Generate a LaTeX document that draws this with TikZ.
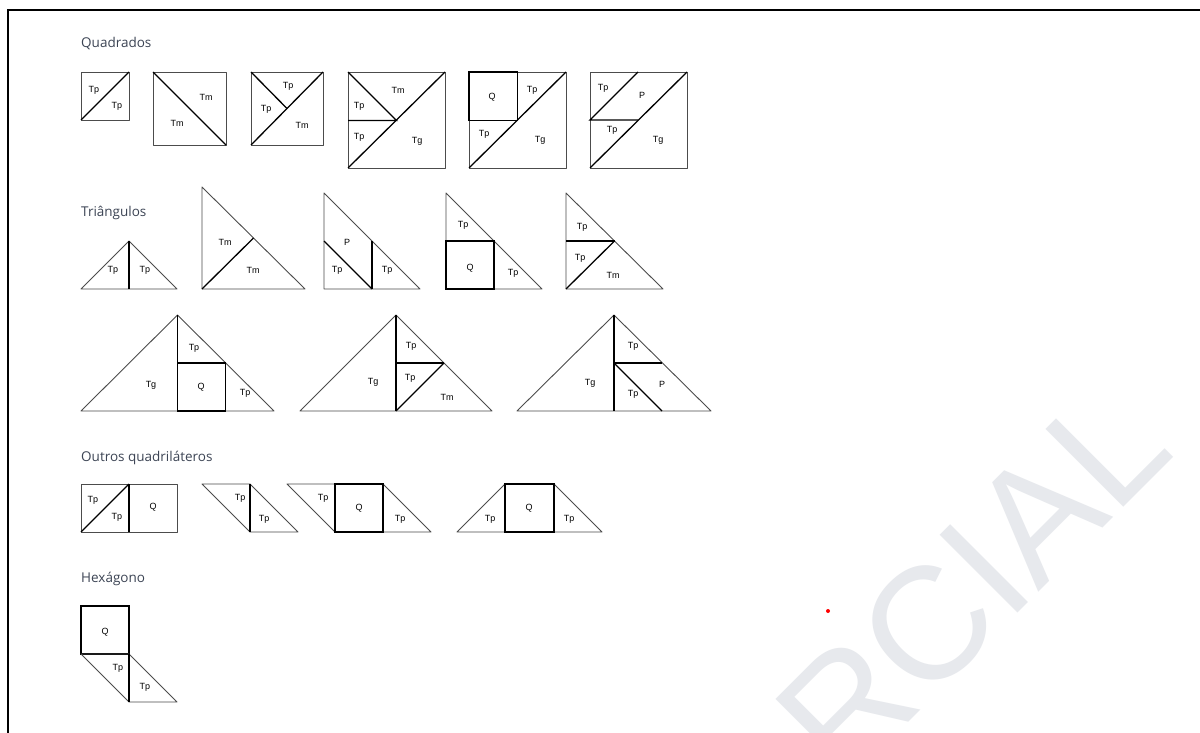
\documentclass[tikz,border=0pt]{standalone}
\usepackage{fontspec}
\setmainfont{Liberation Sans}
\newfontfamily\headfont{Open Sans}
\usepackage{xcolor}
\usepackage{tikz}
\usetikzlibrary{arrows.meta}
\definecolor{headcol}{RGB}{60,68,84}
\definecolor{markcol}{RGB}{231,233,237}

\begin{document}
\begin{tikzpicture}[x=1pt,y=-1pt,
  edge/.style={draw=black!70,line width=0.9pt,line join=round},
  cut/.style={draw=black,line width=1.3pt},
  lbl/.style={font=\fontsize{9}{10}\selectfont,inner sep=0pt},
  title/.style={font=\headfont\fontsize{13.5}{15}\selectfont,text=headcol,anchor=base west,inner sep=0pt}]
  \useasboundingbox (0,0) rectangle (1200,733);
  \fill[white] (0,0) rectangle (1200,733);
  \begin{scope}
    \clip (0,0) rectangle (1200,733);
    \node[font=\fontsize{160}{160}\selectfont,text=markcol,rotate=45,anchor=base west,inner sep=0pt] (mark) at (844,787) {RCIAL};
  \end{scope}
  \fill[red] (828,611) circle (2);
  \draw[line width=2.5pt] (8,733) -- (8,10) -- (1200,10);

  \node[title] (hq) at (81,48) {Quadrados};
  \draw[edge] (81,72) rectangle (129,120);
  \draw[cut] (81,120) -- (129,72);
  \node[lbl] (q1a) at (94,90) {Tp};
  \node[lbl] (q1b) at (117,106) {Tp};
  \draw[edge] (153,72) rectangle (226,145);
  \draw[cut] (153,72) -- (226,145);
  \node[lbl] (q2a) at (206,97) {Tm};
  \node[lbl] (q2b) at (177,123) {Tm};
  \draw[edge] (251,72) rectangle (323,145);
  \draw[cut] (251,145) -- (323,72);
  \draw[cut] (251,72) -- (287,108.5);
  \node[lbl] (q3a) at (288,86) {Tp};
  \node[lbl] (q3b) at (266,109) {Tp};
  \node[lbl] (q3c) at (302,125) {Tm};
  \draw[edge] (348,72) rectangle (445,168);
  \draw[cut] (348,168) -- (445,72);
  \draw[cut] (348,72) -- (396.5,120.5) -- (348,120.5);
  \node[lbl] (q4a) at (398,90) {Tm};
  \node[lbl] (q4b) at (359,106) {Tp};
  \node[lbl] (q4c) at (359,137) {Tp};
  \node[lbl] (q4d) at (417,141) {Tg};
  \draw[edge] (469,72) rectangle (566,168);
  \draw[cut] (469,72) rectangle (517.5,120.5);
  \draw[cut] (469,168) -- (566,72);
  \node[lbl] (q5a) at (492,97) {Q};
  \node[lbl] (q5b) at (532,90) {Tp};
  \node[lbl] (q5c) at (484,134) {Tp};
  \node[lbl] (q5d) at (540,140) {Tg};
  \draw[edge] (590,72) rectangle (687,168);
  \draw[cut] (590,168) -- (687,72);
  \draw[cut] (638,72) -- (590,120) -- (638,120);
  \node[lbl] (q6a) at (603,88) {Tp};
  \node[lbl] (q6b) at (642,95) {P};
  \node[lbl] (q6c) at (612,130) {Tp};
  \node[lbl] (q6d) at (658,140) {Tg};

  \node[title] (ht) at (81,216) {Triângulos};
  \draw[edge] (81,289) -- (177,289) -- (129,241) -- cycle;
  \draw[cut] (129,241) -- (129,289);
  \node[lbl] (t1a) at (113,270) {Tp};
  \node[lbl] (t1b) at (145,270) {Tp};
  \draw[edge] (202,187) -- (202,289) -- (305,289) -- cycle;
  \draw[cut] (202,289) -- (253.5,238);
  \node[lbl] (t2a) at (225,242) {Tm};
  \node[lbl] (t2b) at (253,270) {Tm};
  \draw[edge] (324,193) -- (324,289) -- (420,289) -- cycle;
  \draw[cut] (324,241) -- (372,289);
  \draw[cut] (372,241) -- (372,289);
  \node[lbl] (t3a) at (347,242) {P};
  \node[lbl] (t3b) at (337,270) {Tp};
  \node[lbl] (t3c) at (387,270) {Tp};
  \draw[edge] (446,193) -- (446,289) -- (542,289) -- cycle;
  \draw[cut] (446,241) rectangle (494,289);
  \node[lbl] (t4a) at (463,225) {Tp};
  \node[lbl] (t4b) at (470,268) {Q};
  \node[lbl] (t4c) at (513,273) {Tp};
  \draw[edge] (566,193) -- (566,289) -- (663,289) -- cycle;
  \draw[cut] (566,241) -- (614.5,241);
  \draw[cut] (566,289) -- (614.5,241);
  \node[lbl] (t5a) at (582,227) {Tp};
  \node[lbl] (t5b) at (580,258) {Tp};
  \node[lbl] (t5c) at (613,275) {Tm};

  \draw[edge] (81,411) -- (274,411) -- (177.5,315) -- cycle;
  \draw[cut] (177.5,315) -- (177.5,411);
  \draw[cut] (177.5,363) rectangle (225.5,411);
  \node[lbl] (b1a) at (151,385) {Tg};
  \node[lbl] (b1b) at (201,387) {Q};
  \node[lbl] (b1c) at (194,348) {Tp};
  \node[lbl] (b1d) at (245,393) {Tp};
  \draw[edge] (300,411) -- (492,411) -- (396,315) -- cycle;
  \draw[cut] (396,315) -- (396,411);
  \draw[cut] (396,363) -- (444,363);
  \draw[cut] (396,411) -- (444,363);
  \node[lbl] (b2a) at (373,382) {Tg};
  \node[lbl] (b2b) at (411,346) {Tp};
  \node[lbl] (b2c) at (410,378) {Tp};
  \node[lbl] (b2d) at (447,397) {Tm};
  \draw[edge] (517,411) -- (711,411) -- (614,315) -- cycle;
  \draw[cut] (614,315) -- (614,411);
  \draw[cut] (614,363) -- (662,363);
  \draw[cut] (614,363) -- (662,411);
  \node[lbl] (b3a) at (590,383) {Tg};
  \node[lbl] (b3b) at (633,346) {Tp};
  \node[lbl] (b3c) at (633,394) {Tp};
  \node[lbl] (b3d) at (662,384) {P};

  \node[title] (ho) at (81,461) {Outros quadriláteros};
  \draw[edge] (81,484) rectangle (177,532);
  \draw[cut] (129,484) -- (129,532);
  \draw[cut] (81,532) -- (129,484);
  \node[lbl] (o1a) at (93,500) {Tp};
  \node[lbl] (o1b) at (117,517) {Tp};
  \node[lbl] (o1c) at (153,507) {Q};
  \draw[edge] (202,484) -- (250,484) -- (298,532) -- (250,532) -- cycle;
  \draw[cut] (250,484) -- (250,532);
  \node[lbl] (o2a) at (240,498) {Tp};
  \node[lbl] (o2b) at (264,519) {Tp};
  \draw[edge] (287,484) -- (383,484) -- (431,532) -- (335,532) -- cycle;
  \draw[cut] (335,484) rectangle (383,532);
  \node[lbl] (o3a) at (323,498) {Tp};
  \node[lbl] (o3b) at (359,508) {Q};
  \node[lbl] (o3c) at (400,519) {Tp};
  \draw[edge] (457,532) -- (505,484) -- (554,484) -- (602,532) -- cycle;
  \draw[cut] (505,484) rectangle (554,532);
  \node[lbl] (o4a) at (490,519) {Tp};
  \node[lbl] (o4b) at (529,508) {Q};
  \node[lbl] (o4c) at (569,519) {Tp};

  \node[title] (hh) at (81,582) {Hexágono};
  \draw[cut] (81,606) rectangle (129,654);
  \draw[edge] (81,654) -- (129,654) -- (177,702) -- (129,702) -- cycle;
  \draw[cut] (129,654) -- (129,702);
  \node[lbl] (h1a) at (105,632) {Q};
  \node[lbl] (h1b) at (118,668) {Tp};
  \node[lbl] (h1c) at (145,687) {Tp};
\end{tikzpicture}
\end{document}
